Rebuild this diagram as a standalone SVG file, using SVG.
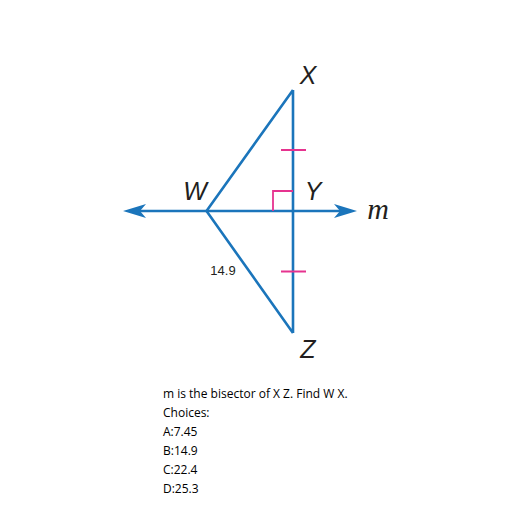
<svg xmlns="http://www.w3.org/2000/svg" width="512" height="512" viewBox="0 0 512 512">
<style>
.ln{stroke:#1b75bb;stroke-width:2.6;fill:none;stroke-linejoin:miter}
.pk{stroke:#e6338f;stroke-width:1.8;fill:none}
.lbl{font-family:"Liberation Sans",Arial,sans-serif;font-style:italic;font-size:25px;fill:#231f20}
.num{font-family:"Liberation Sans",Arial,sans-serif;font-size:13px;fill:#231f20}
.q{font-family:"Open Sans","Liberation Sans",sans-serif;font-size:12px;fill:#000}
</style>
<rect width="512" height="512" fill="#fff"/>
<g id="connectors">
<line class="ln" x1="132" y1="211" x2="348" y2="211"/>
<path d="M123,211 L146,204 L140,211 L146,218 Z" fill="#1b75bb"/>
<path d="M357,211 L334,204 L340,211 L334,218 Z" fill="#1b75bb"/>
<path class="ln" d="M293,90 L293,333 M293,90 L206.5,211 L293,333"/>
<path class="pk" d="M281,150 H306 M281,271.5 H306 M273,211 V191 H293"/>
</g>
<g id="X"><text class="lbl" x="308" y="84" text-anchor="middle">X</text></g>
<g id="W"><text class="lbl" x="195" y="200" text-anchor="middle">W</text></g>
<g id="Y"><text class="lbl" x="313" y="200" text-anchor="middle">Y</text></g>
<g id="Z"><text class="lbl" x="308" y="358" text-anchor="middle">Z</text></g>
<g id="m"><text x="378" y="219" text-anchor="middle" font-family="'Liberation Serif',serif" font-style="italic" font-size="30" fill="#231f20">m</text></g>
<g id="len"><text class="num" x="223" y="275" text-anchor="middle">14.9</text></g>
<g id="question">
<text class="q" x="163" y="398">m is the bisector of X Z. Find W X.</text>
<text class="q" x="163" y="417">Choices:</text>
<text class="q" x="163" y="436">A:7.45</text>
<text class="q" x="163" y="455">B:14.9</text>
<text class="q" x="163" y="474">C:22.4</text>
<text class="q" x="163" y="493">D:25.3</text>
</g>
</svg>
